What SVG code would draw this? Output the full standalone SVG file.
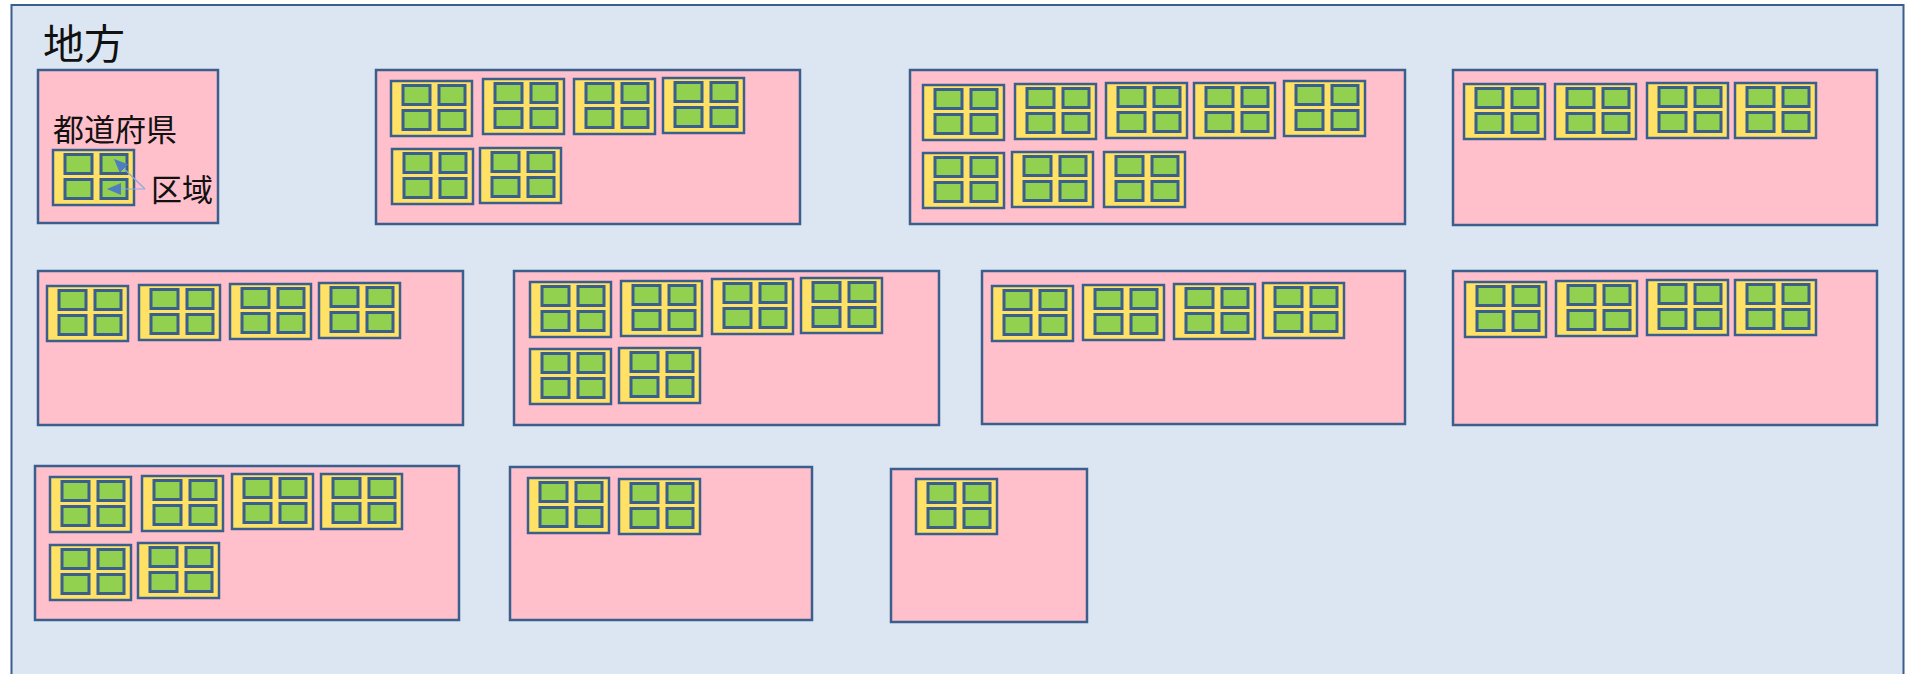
<svg xmlns="http://www.w3.org/2000/svg" xmlns:xlink="http://www.w3.org/1999/xlink" width="1905" height="674" viewBox="0 0 1905 674">
<style>
.outer{fill:#dce6f2;stroke:#3b5f8c;stroke-width:2}
.pref{fill:#ffc0cb;stroke:#3b5f8c;stroke-width:2.5}
.yel{fill:#ffe265;stroke:#3b5f8c;stroke-width:2.5}
.cell{fill:#92d050;stroke:#3b5f8c;stroke-width:3}
.lbl{font-family:"Noto Sans CJK JP","Noto Sans CJK SC",sans-serif;fill:#111}
.conn{stroke:#8fa8d8;stroke-width:1.2;fill:none}
</style>
<defs>
<marker id="ah" markerUnits="userSpaceOnUse" markerWidth="16" markerHeight="12" refX="14" refY="6" orient="auto">
<path d="M0,0 L14,6 L0,12 Z" fill="#4f7ec0"/>
</marker>
<g id="unit">
<rect class="yel" x="0" y="0" width="81" height="55"/>
<rect class="cell" x="12" y="4.5" width="27" height="19"/>
<rect class="cell" x="48" y="4.5" width="26" height="19"/>
<rect class="cell" x="12" y="29.5" width="27" height="19"/>
<rect class="cell" x="48" y="29.5" width="26" height="19"/>
</g>
</defs>
<g id="region">
<rect class="outer" x="11.5" y="5" width="1892" height="700"/>
<text class="lbl" x="43" y="59" font-size="41">地方</text>
</g>
<g id="pref1">
<rect class="pref" x="38" y="70" width="180" height="153"/>
<text class="lbl" x="53" y="141" font-size="31">都道府県</text>
<use xlink:href="#unit" x="53" y="150"/>
<text class="lbl" x="151" y="201" font-size="31">区域</text>
</g>
<g id="pref2">
<rect class="pref" x="376" y="70" width="424" height="154"/>
<use xlink:href="#unit" x="391" y="81"/><use xlink:href="#unit" x="483" y="79"/><use xlink:href="#unit" x="574" y="79"/><use xlink:href="#unit" x="663" y="78"/>
<use xlink:href="#unit" x="392" y="149"/><use xlink:href="#unit" x="480" y="148"/>
</g>
<g id="pref3">
<rect class="pref" x="910" y="70" width="495" height="154"/>
<use xlink:href="#unit" x="923" y="85"/><use xlink:href="#unit" x="1015" y="84"/><use xlink:href="#unit" x="1106" y="83"/><use xlink:href="#unit" x="1194" y="83"/><use xlink:href="#unit" x="1284" y="81"/>
<use xlink:href="#unit" x="923" y="153"/><use xlink:href="#unit" x="1012" y="152"/><use xlink:href="#unit" x="1104" y="152"/>
</g>
<g id="pref4">
<rect class="pref" x="1453" y="70" width="424" height="155"/>
<use xlink:href="#unit" x="1464" y="84"/><use xlink:href="#unit" x="1555" y="84"/><use xlink:href="#unit" x="1647" y="83"/><use xlink:href="#unit" x="1735" y="83"/>
</g>
<g id="pref5">
<rect class="pref" x="38" y="271" width="425" height="154"/>
<use xlink:href="#unit" x="47" y="286"/><use xlink:href="#unit" x="139" y="285"/><use xlink:href="#unit" x="230" y="284"/><use xlink:href="#unit" x="319" y="283"/>
</g>
<g id="pref6">
<rect class="pref" x="514" y="271" width="425" height="154"/>
<use xlink:href="#unit" x="530" y="282"/><use xlink:href="#unit" x="621" y="281"/><use xlink:href="#unit" x="712" y="279"/><use xlink:href="#unit" x="801" y="278"/>
<use xlink:href="#unit" x="530" y="349"/><use xlink:href="#unit" x="619" y="348"/>
</g>
<g id="pref7">
<rect class="pref" x="982" y="271" width="423" height="153"/>
<use xlink:href="#unit" x="992" y="286"/><use xlink:href="#unit" x="1083" y="285"/><use xlink:href="#unit" x="1174" y="284"/><use xlink:href="#unit" x="1263" y="283"/>
</g>
<g id="pref8">
<rect class="pref" x="1453" y="271" width="424" height="154"/>
<use xlink:href="#unit" x="1465" y="282"/><use xlink:href="#unit" x="1556" y="281"/><use xlink:href="#unit" x="1647" y="280"/><use xlink:href="#unit" x="1735" y="280"/>
</g>
<g id="pref9">
<rect class="pref" x="35" y="466" width="424" height="154"/>
<use xlink:href="#unit" x="50" y="477"/><use xlink:href="#unit" x="142" y="476"/><use xlink:href="#unit" x="232" y="474"/><use xlink:href="#unit" x="321" y="474"/>
<use xlink:href="#unit" x="50" y="545"/><use xlink:href="#unit" x="138" y="543"/>
</g>
<g id="pref10">
<rect class="pref" x="510" y="467" width="302" height="153"/>
<use xlink:href="#unit" x="528" y="478"/><use xlink:href="#unit" x="619" y="479"/>
</g>
<g id="pref11">
<rect class="pref" x="891" y="469" width="196" height="153"/>
<use xlink:href="#unit" x="916" y="479"/>
</g>
<g id="connectors">
<line class="conn" x1="145" y1="189" x2="114" y2="159" marker-end="url(#ah)"/>
<line class="conn" x1="145" y1="189" x2="107" y2="189" marker-end="url(#ah)"/>
</g>
</svg>
